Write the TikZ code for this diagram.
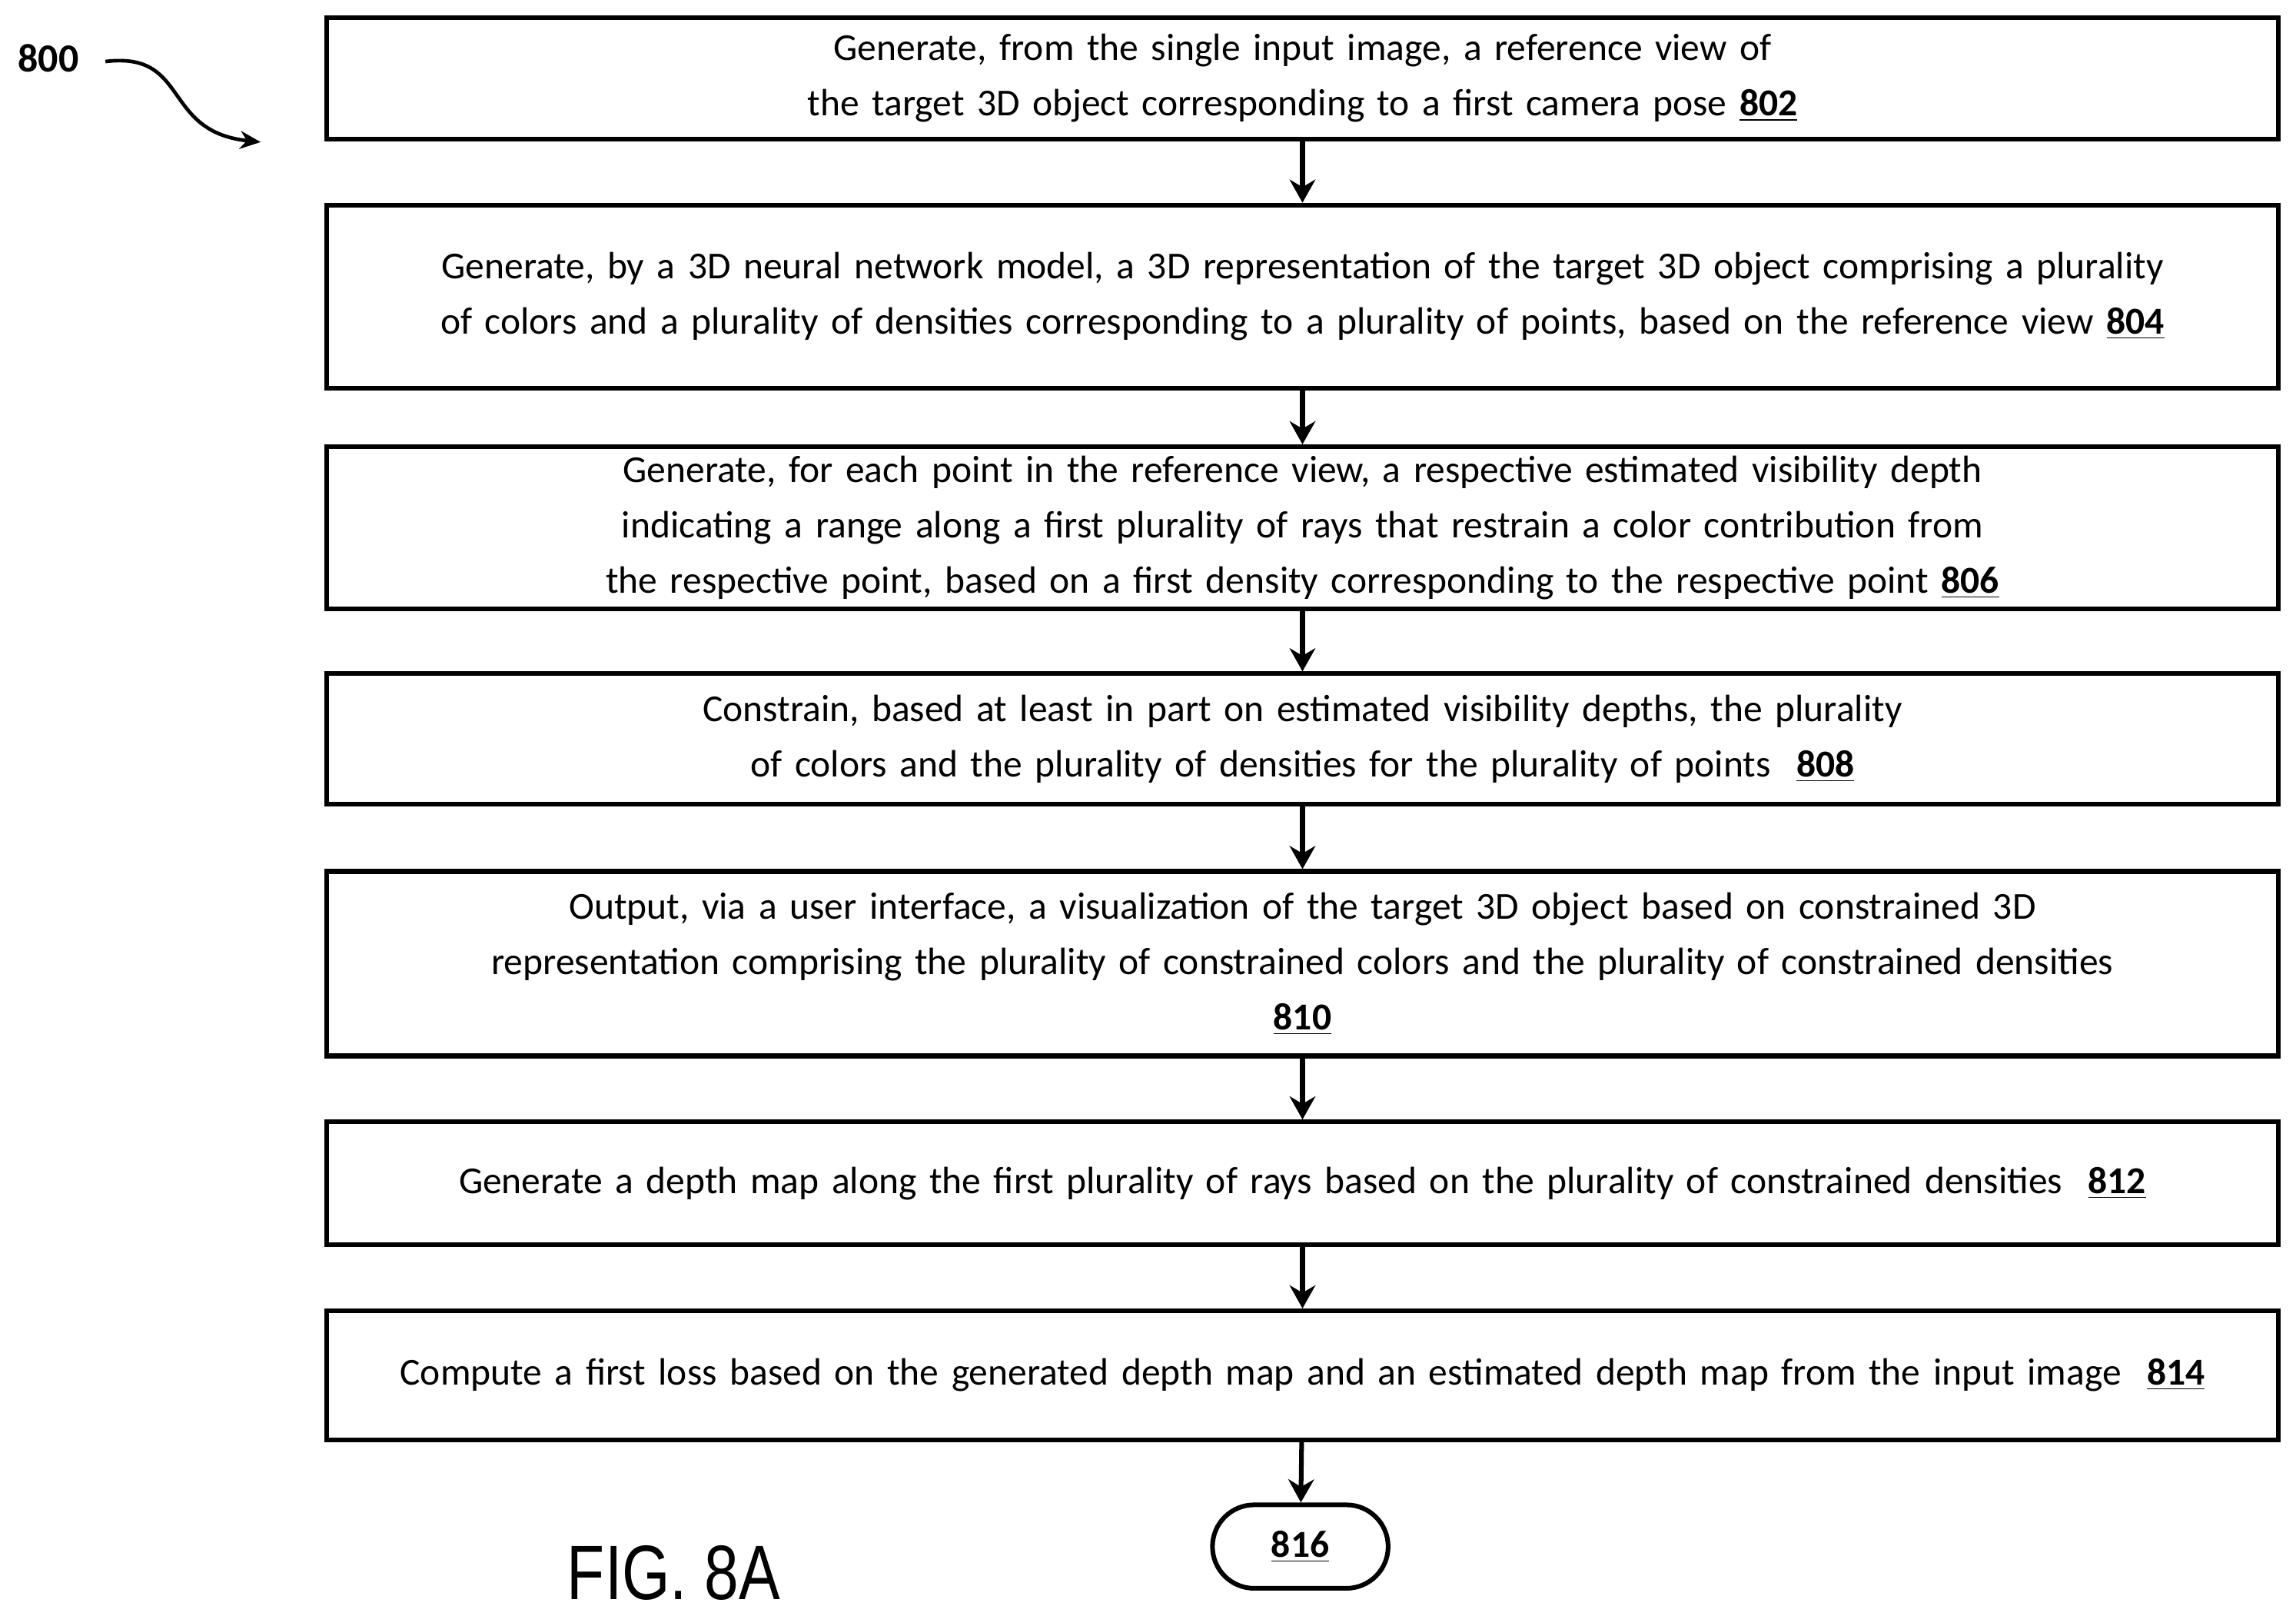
\documentclass[tikz,border=0pt]{standalone}
\usepackage{fontspec}
\setmainfont{Carlito}
\newfontfamily\figfont[FakeStretch=0.8]{Liberation Sans}
\usetikzlibrary{arrows.meta}
\hyphenpenalty=10000
\exhyphenpenalty=10000
\begin{document}
\begin{tikzpicture}
  [x=0.02cm,y=-0.02cm,
   stepbox/.style={draw, line width=1.8pt, minimum width=26.66cm, text width=26.4cm, align=center, inner sep=0pt, font=\fontsize{14.8}{21.5}\selectfont},
   flow/.style={-{Stealth[length=9pt,width=10pt]}, line width=1.8pt}]
  \useasboundingbox (0,0) rectangle (1568,1103);

  \node[stepbox, minimum height=1.66cm] (s802) at (889.5,53.5) {Generate, from the single input image, a reference view of the target 3D object corresponding to a first camera pose \textbf{\underline{802}}};
  \node[stepbox, minimum height=2.5cm] (s804) at (889.5,202.5) {Generate, by a 3D neural network model, a 3D representation of the target 3D object comprising a plurality of colors and a plurality of densities corresponding to a plurality of points, based on the reference view \textbf{\underline{804}}};
  \node[stepbox, minimum height=2.22cm] (s806) at (889.5,360.5) {Generate, for each point in the reference view, a respective estimated visibility depth indicating a range along a first plurality of rays that restrain a color contribution from the respective point, based on a first density corresponding to the respective point \textbf{\underline{806}}};
  \node[stepbox, minimum height=1.78cm] (s808) at (889.5,504.5) {Constrain, based at least in part on estimated visibility depths, the plurality of colors and the plurality of densities for the plurality of points\ \ \textbf{\underline{808}}};
  \node[stepbox, minimum height=2.52cm] (s810) at (889.5,658) {Output, via a user interface, a visualization of the target 3D object based on constrained 3D representation comprising the plurality of constrained colors and the plurality of constrained densities\\\textbf{\underline{810}}};
  \node[stepbox, minimum height=1.68cm] (s812) at (889.5,808) {Generate a depth map along the first plurality of rays based on the plurality of constrained densities\ \ \textbf{\underline{812}}};
  \node[stepbox, minimum height=1.76cm] (s814) at (889.5,939) {Compute a first loss based on the generated depth map and an estimated depth map from the input image\ \ \textbf{\underline{814}}};
  \node[draw, line width=1.8pt, rounded corners=0.57cm, minimum width=2.4cm, minimum height=1.14cm, font=\fontsize{14.8}{21.5}\selectfont] (s816) at (888,1056) {\textbf{\underline{816}}};

  \foreach \from/\to in {s802/s804, s804/s806, s806/s808, s808/s810, s810/s812, s812/s814, s814/s816}
    \draw[flow] (\from) -- (\to);

  \node[font=\fontsize{15.5}{18}\selectfont\bfseries] (n800) at (33,40) {800};
  \coordinate (c800) at (178,97);
  \draw[-{Stealth[length=8pt,width=7pt]}, line width=1.4pt] (72,42) .. controls (130,35) and (110,90) .. (c800);
  \node[font=\fontsize{30}{34}\figfont] (fig) at (460,1074) {FIG. 8A};
\end{tikzpicture}
\end{document}
